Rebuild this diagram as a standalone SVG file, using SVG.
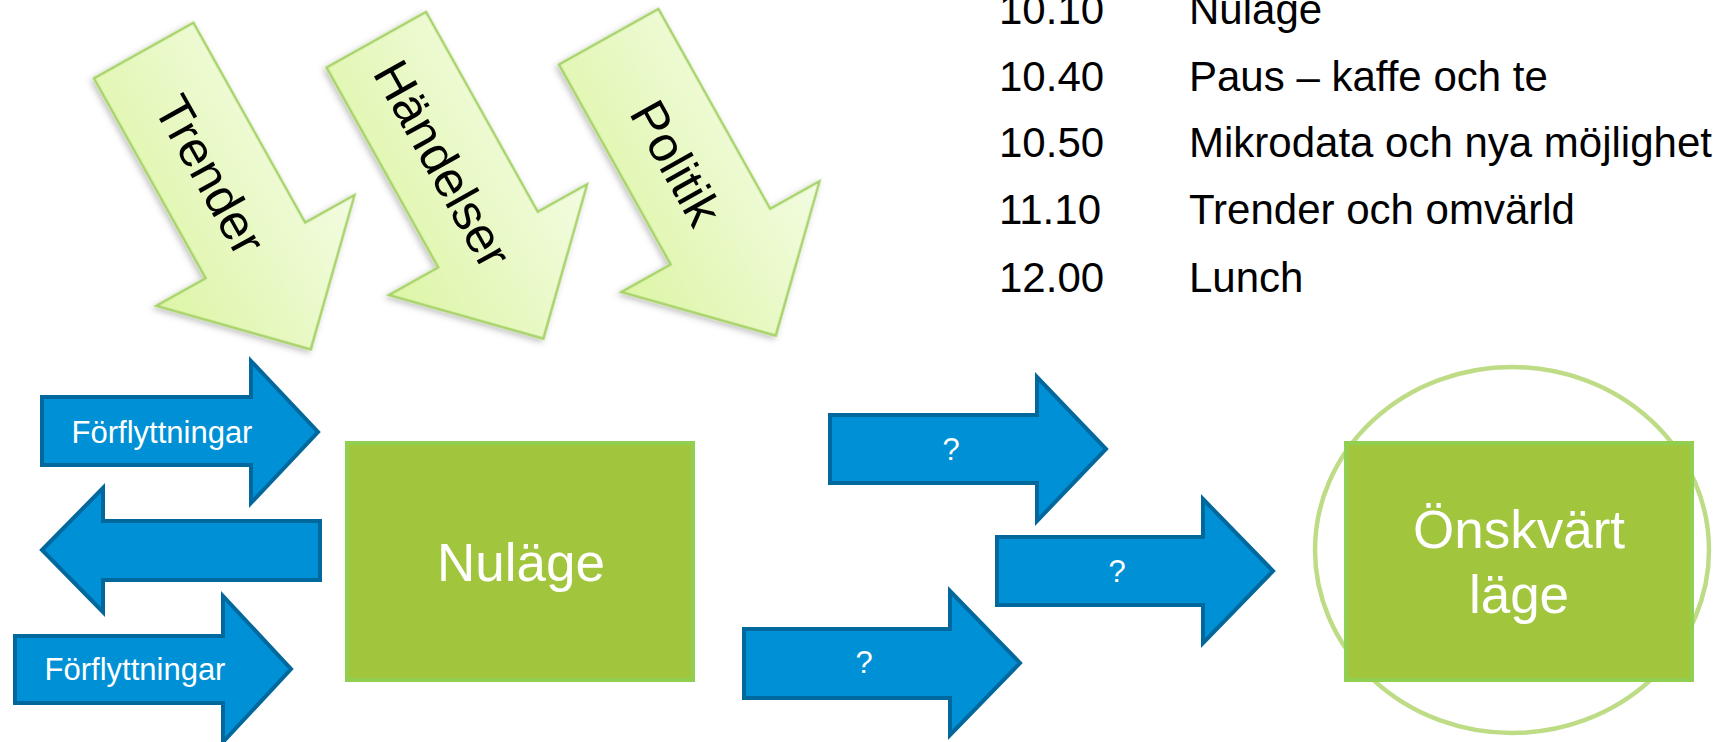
<svg xmlns="http://www.w3.org/2000/svg" width="1713" height="742" viewBox="0 0 1713 742">
<style>
  .lbl { font-family: "Liberation Sans", Arial, sans-serif; }
  .garrow { fill: url(#ggrad); stroke: #A8D36A; stroke-width: 2.5; stroke-linejoin: miter; }
  .gtext { font-family: "Liberation Sans", Arial, sans-serif; font-size: 50px; fill: #000; text-anchor: middle; }
  .barrow { fill: #0090D5; stroke: #00689C; stroke-width: 4; stroke-linejoin: miter; }
  .btext { font-family: "Liberation Sans", Arial, sans-serif; font-size: 31px; fill: #fff; text-anchor: middle; }
  .box { fill: #A1C53D; stroke: #90CF50; stroke-width: 4; }
  .boxtext { font-family: "Liberation Sans", Arial, sans-serif; font-size: 53px; fill: #fff; text-anchor: middle; }
  .agenda { font-family: "Liberation Sans", Arial, sans-serif; font-size: 42px; fill: #000; }
</style>
<defs>
  <linearGradient id="ggrad" x1="0" y1="1" x2="0" y2="0">
    <stop offset="0" stop-color="#DDF5A6"/>
    <stop offset="1" stop-color="#F3FCE2"/>
  </linearGradient>
  <filter id="shadow" x="-20%" y="-20%" width="140%" height="140%">
    <feDropShadow dx="1" dy="3" stdDeviation="3" flood-color="#000" flood-opacity="0.25"/>
  </filter>
</defs>
<rect width="1713" height="742" fill="#fff"/>

<g id="agenda" class="agenda">
  <text x="999" y="24">10.10</text><text x="1189" y="24">Nuläge</text>
  <text x="999" y="91">10.40</text><text x="1189" y="91">Paus – kaffe och te</text>
  <text x="999" y="157">10.50</text><text x="1189" y="157">Mikrodata och nya möjligheter</text>
  <text x="999" y="224">11.10</text><text x="1189" y="224">Trender och omvärld</text>
  <text x="999" y="292">12.00</text><text x="1189" y="292">Lunch</text>
</g>

<g id="trender" transform="translate(143.7,50.5) rotate(60.8)">
  <path class="garrow" filter="url(#shadow)" d="M0,-57 L229,-57 L229,-113.6 L342.5,0 L229,113.6 L229,57 L0,57 Z"/>
  <text class="gtext" x="141" y="20">Trender</text>
</g>
<g id="handelser" transform="translate(376.3,39.7) rotate(60.8)">
  <path class="garrow" filter="url(#shadow)" d="M0,-57 L229,-57 L229,-113.6 L342.5,0 L229,113.6 L229,57 L0,57 Z"/>
  <text class="gtext" x="141" y="20">Händelser</text>
</g>
<g id="politik" transform="translate(608.7,36.7) rotate(60.8)">
  <path class="garrow" filter="url(#shadow)" d="M0,-57 L229,-57 L229,-113.6 L342.5,0 L229,113.6 L229,57 L0,57 Z"/>
  <text class="gtext" x="143" y="20">Politik</text>
</g>

<g id="nulage">
  <rect class="box" x="347" y="443" width="346" height="237"/>
  <text class="boxtext" x="521" y="581">Nuläge</text>
</g>

<g id="onskvart-lage">
  <ellipse cx="1512" cy="550" rx="197" ry="183" fill="none" stroke="#BEDC86" stroke-width="4.5"/>
  <rect class="box" x="1346" y="443" width="346" height="237"/>
  <text class="boxtext" x="1519" y="548">Önskvärt</text>
  <text class="boxtext" x="1519" y="613">läge</text>
</g>

<g id="connectors">
  <g id="forflyttningar-in-1">
    <path class="barrow" d="M42,397 L251,397 L251,361 L318,432 L251,503 L251,465 L42,465 Z"/>
    <text class="btext" x="162" y="443">Förflyttningar</text>
  </g>
  <g id="forflyttningar-out">
    <path class="barrow" d="M42,550 L103,488 L103,521 L320,521 L320,580 L103,580 L103,612 Z"/>
  </g>
  <g id="forflyttningar-in-2">
    <path class="barrow" d="M15,636 L223,636 L223,596 L291,669 L223,742 L223,703 L15,703 Z"/>
    <text class="btext" x="135" y="680">Förflyttningar</text>
  </g>
  <g id="path-a">
    <path class="barrow" d="M830,415 L1037,415 L1037,377 L1106,449 L1037,521 L1037,483 L830,483 Z"/>
    <text class="btext" x="951" y="460">?</text>
  </g>
  <g id="path-b">
    <path class="barrow" d="M997,537 L1203,537 L1203,499 L1273,571 L1203,643 L1203,605 L997,605 Z"/>
    <text class="btext" x="1117" y="582">?</text>
  </g>
  <g id="path-c">
    <path class="barrow" d="M744,629 L950,629 L950,591 L1020,663 L950,735 L950,698 L744,698 Z"/>
    <text class="btext" x="864" y="673">?</text>
  </g>
</g>
</svg>
